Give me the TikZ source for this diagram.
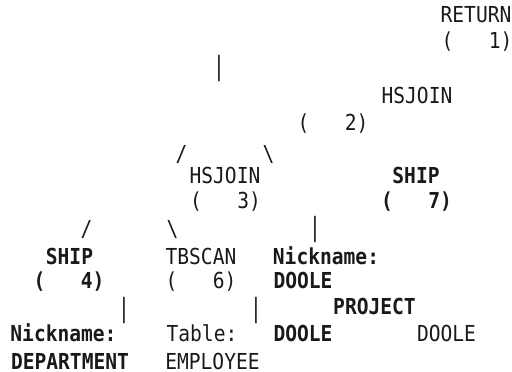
\documentclass[tikz,border=0pt]{standalone}
\usepackage{fontspec}
\newfontfamily\planfont{DejaVu Sans Mono}[FakeStretch=0.89]
\newcommand{\vbar}{\scalebox{1}[1.2]{|}}
\begin{document}
\begin{tikzpicture}[x=1pt,y=-1pt,
  txt/.style={anchor=base,inner sep=0pt,font=\planfont\fontsize{22}{25}\selectfont,text=black!90},
  bld/.style={txt,font=\planfont\bfseries\fontsize{22}{25}\selectfont}]
\useasboundingbox (0,0) rectangle (512,372);
% RETURN (1)
\node[txt] (ret)  at (476,23) {RETURN};
\node[txt] (ret1) at (477,48) {(\ \ \ 1)};
\node[txt] (c1)   at (219,75.4) {\vbar};
% HSJOIN (2)
\node[txt] (hs2)  at (417,103) {HSJOIN};
\node[txt] (hs2n) at (333,130) {(\ \ \ 2)};
\node[txt] (s2l)  at (181.5,161) {/};
\node[txt] (s2r)  at (268.5,161) {\textbackslash};
% HSJOIN (3) and SHIP (7)
\node[txt] (hs3)  at (225,183) {HSJOIN};
\node[bld] (sh7)  at (416,183) {SHIP};
\node[txt] (hs3n) at (225.5,208) {(\ \ \ 3)};
\node[bld] (sh7n) at (416.5,208) {(\ \ \ 7)};
\node[txt] (s3l)  at (86.5,236) {/};
\node[txt] (s3r)  at (172.5,236) {\textbackslash};
\node[txt] (c7)   at (315,236) {\vbar};
% SHIP (4), TBSCAN (6), nickname
\node[bld] (sh4)  at (69.5,264) {SHIP};
\node[txt] (tb6)  at (201,264) {TBSCAN};
\node[bld] (nk7)  at (326,264) {Nickname:};
\node[bld] (sh4n) at (69,288) {(\ \ \ 4)};
\node[txt] (tb6n) at (201,288) {(\ \ \ 6)};
\node[bld] (nk7v) at (303,288) {DOOLE};
\node[txt] (c4)   at (124,317) {\vbar};
\node[txt] (c6)   at (256,317) {\vbar};
\node[bld] (proj) at (374.5,314) {PROJECT};
% bottom rows
\node[bld] (nk4)  at (63.5,341) {Nickname:};
\node[txt] (tab)  at (202,341) {Table:};
\node[bld] (doo1) at (303,341) {DOOLE};
\node[txt] (doo2) at (446.5,341) {DOOLE};
\node[bld] (dept) at (70,369) {DEPARTMENT};
\node[txt] (emp)  at (212.5,369) {EMPLOYEE};
\end{tikzpicture}
\end{document}
